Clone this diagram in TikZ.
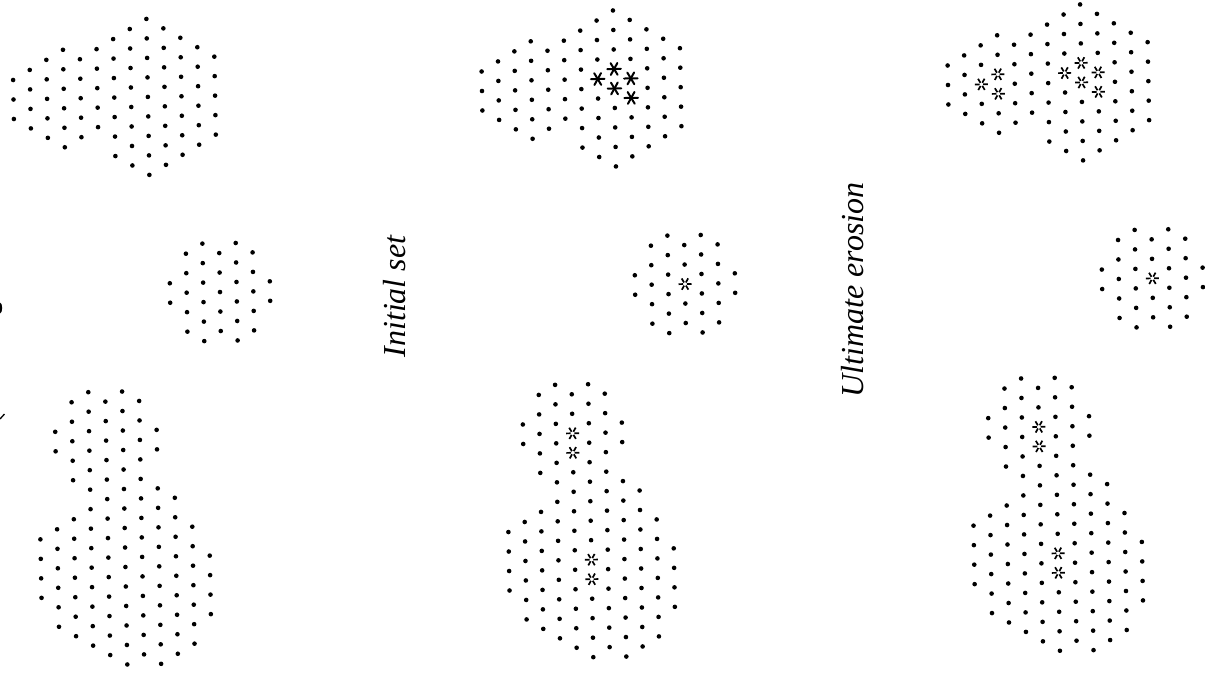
\documentclass[tikz,border=0pt]{standalone}
\usepackage{fontspec}
\setmainfont{Liberation Serif}
\tikzset{
  dotc/.style={fill=black},
  boldstar/.style={line width=2pt, line cap=round},
  lightstar/.style={line width=1.7pt},
  caption/.style={rotate=90, anchor=base, font=\itshape\fontsize{32}{38}\selectfont}
}
\newcommand\dxx{16.8}
\newcommand\dyy{9.75}
% column of dots: column #1, k from #2 to #3 step 2
\newcommand\dcol[3]{%
  \pgfmathtruncatemacro\nn{((#3)-(#2))/2}%
  \foreach \i in {0,...,\nn}{\fill[dotc] ({(#1)*\dxx},{((#2)+2*\i)*\dyy}) circle[radius=2.3];}}
\newcommand\bstar[2]{\begin{scope}[shift={({(#1)*\dxx},{(#2)*\dyy})}]
  \foreach \a in {0,60,120}{\draw[boldstar] (\a:6.8) -- (\a+180:6.8);}\end{scope}}
\newcommand\lstar[2]{\begin{scope}[shift={({(#1)*\dxx},{(#2)*\dyy})}]
  \foreach \a in {0,60,...,300}{\draw[lightstar] (\a:1.8) -- (\a:6.5);}\end{scope}}
% shape A (top)
\newcommand\shapeAbase{\dcol{0}{-2}{2}\dcol{1}{-3}{3}\dcol{4}{-4}{4}\dcol{5}{-5}{3}%
  \dcol{6}{-6}{6}\dcol{10}{-6}{6}\dcol{11}{-5}{5}\dcol{12}{-4}{4}}
\newcommand\starcols[1]{\dcol{7}{-7}{-3}#1{7}{-1}\dcol{7}{1}{7}%
  \dcol{8}{-8}{-4}#1{8}{-2}#1{8}{0}\dcol{8}{2}{8}%
  \dcol{9}{-7}{-3}#1{9}{-1}#1{9}{1}\dcol{9}{3}{7}}
% shape B (middle)
\newcommand\shapeBbase{\dcol{0}{-1}{1}\dcol{1}{-4}{4}\dcol{2}{-5}{5}\dcol{4}{-5}{5}\dcol{5}{-4}{4}\dcol{6}{-1}{1}}
% shape C (bottom)
\newcommand\shapeCbase{\dcol{-5}{1}{7}\dcol{-4}{-10}{-8}\dcol{-4}{0}{10}%
  \dcol{-3}{-13}{-5}\dcol{-3}{-1}{11}\dcol{-2}{-14}{12}%
  \dcol{1}{-13}{13}\dcol{2}{-10}{-8}\dcol{2}{-4}{14}\dcol{3}{-3}{13}\dcol{4}{0}{12}\dcol{5}{3}{9}}
\newcommand\shapeCstars[1]{\dcol{-1}{-13}{-11}#1{-1}{-9}#1{-1}{-7}\dcol{-1}{-5}{13}%
  \dcol{0}{-14}{2}#1{0}{4}#1{0}{6}\dcol{0}{8}{14}}
\begin{document}
\begin{tikzpicture}[x=1pt,y=-1pt]
\useasboundingbox (0,0) rectangle (1205,674);
\fill[white] (0,0) rectangle (1205,674);
% ---------- panel 1 : initial set ----------
\begin{scope}[shift={(13.5,99.5)},rotate=1.1]\def\dxx{16.8}
  \shapeAbase\dcol{2}{-4}{4}\dcol{3}{-5}{5}\dcol{7}{-7}{7}\dcol{8}{-8}{8}\dcol{9}{-7}{7}
\end{scope}
\begin{scope}[shift={(170,293)},rotate=1.1]\def\dxx{16.67}
  \shapeBbase\dcol{3}{-4}{4}
\end{scope}
\begin{scope}[shift={(124.7,528)},rotate=1.1]\def\dxx{16.9}
  \shapeCbase\dcol{-1}{-13}{13}\dcol{0}{-14}{14}
\end{scope}
% ---------- panel 2 ----------
\begin{scope}[shift={(482,91)},rotate=1.1]\def\dxx{16.56}
  \shapeAbase\dcol{2}{-4}{4}\dcol{3}{-5}{5}\starcols{\bstar}
\end{scope}
\begin{scope}[shift={(635,285)},rotate=1.1]\def\dxx{16.67}
  \shapeBbase\dcol{3}{-4}{-2}\lstar{3}{0}\dcol{3}{2}{4}
\end{scope}
\begin{scope}[shift={(590.7,520.7)},rotate=1.1]\def\dxx{16.5}
  \shapeCbase\shapeCstars{\lstar}
\end{scope}
% ---------- panel 3 ----------
\begin{scope}[shift={(948,85)},rotate=1.1]\def\dxx{16.7}
  \shapeAbase\dcol{2}{-4}{-2}\lstar{2}{0}\dcol{2}{2}{4}%
  \dcol{3}{-5}{-3}\lstar{3}{-1}\lstar{3}{1}\dcol{3}{3}{5}\starcols{\lstar}
\end{scope}
\begin{scope}[shift={(1102,279.3)},rotate=1.1]\def\dxx{16.8}
  \shapeBbase\dcol{3}{-4}{-2}\lstar{3}{0}\dcol{3}{2}{4}
\end{scope}
\begin{scope}[shift={(1057.3,514.3)},rotate=1.1]\def\dxx{16.8}
  \shapeCbase\shapeCstars{\lstar}
\end{scope}
% ---------- captions ----------
\node[caption] (capinit) at (405,296.5) {Initial set};
\node[caption] (capult) at (863,290) {Ultimate erosion};
% ---------- marks at the left edge ----------
\fill (0,308) ellipse [x radius=2.2, y radius=5.5];
\draw[line width=1.3pt] (0,419) -- (4.5,414);
\end{tikzpicture}
\end{document}
